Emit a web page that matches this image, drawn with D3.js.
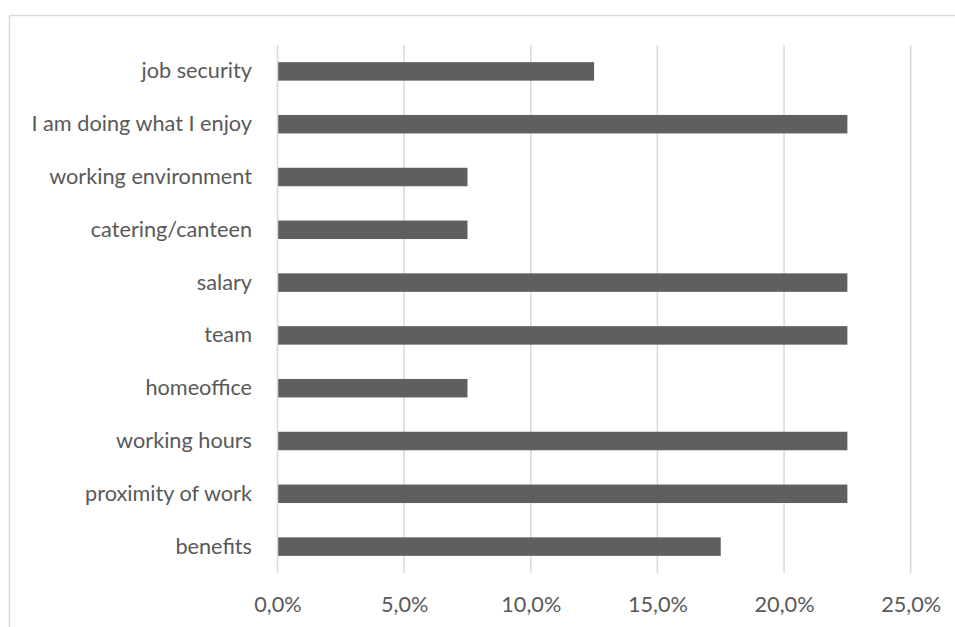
<!DOCTYPE html>
<html>
<head>
<meta charset="utf-8">
<script src="https://cdn.jsdelivr.net/npm/d3@7"></script>
<style>
  html, body { margin: 0; padding: 0; background: #fff; }
  svg { display: block; }
</style>
</head>
<body>
<svg id="chart" width="955" height="627"></svg>
<script>
const categories = [
  "job security",
  "I am doing what I enjoy",
  "working environment",
  "catering/canteen",
  "salary",
  "team",
  "homeoffice",
  "working hours",
  "proximity of work",
  "benefits"
];
const values = [0.125, 0.225, 0.075, 0.075, 0.225, 0.225, 0.075, 0.225, 0.225, 0.175];
const tickValues = [0, 0.05, 0.10, 0.15, 0.20, 0.25];
const tickLabels = ["0,0%", "5,0%", "10,0%", "15,0%", "20,0%", "25,0%"];

const svg = d3.select("#chart");
const font = "Lato, sans-serif";
const fontSize = 21.7;

// outer chart border
svg.append("rect")
  .attr("x", 9.5).attr("y", 15.5)
  .attr("width", 1000).attr("height", 700)
  .attr("fill", "#fff")
  .attr("stroke", "#d9d9d9")
  .attr("stroke-width", 1.5);

const x = d3.scaleLinear().domain([0, 0.25]).range([277.5, 910.7]);
const y = d3.scaleBand().domain(categories).range([45, 573])
  .paddingInner(0.65).paddingOuter(0.325);

// gridlines
svg.append("g").selectAll("line")
  .data(tickValues.slice(1))
  .join("line")
  .attr("x1", d => x(d)).attr("x2", d => x(d))
  .attr("y1", 45).attr("y2", 573)
  .attr("stroke", "#d9d9d9").attr("stroke-width", 1.5);

// bars
svg.append("g").selectAll("rect")
  .data(categories)
  .join("rect")
  .attr("x", x(0))
  .attr("y", d => y(d))
  .attr("width", (d, i) => x(values[i]) - x(0))
  .attr("height", y.bandwidth())
  .attr("fill", "#5f5f5f");

// vertical axis line
svg.append("line")
  .attr("x1", x(0)).attr("x2", x(0))
  .attr("y1", 45).attr("y2", 573)
  .attr("stroke", "#d9d9d9").attr("stroke-width", 1.5);

// x axis labels
const xAxis = d3.axisBottom(x).tickValues(tickValues)
  .tickFormat((d, i) => tickLabels[i]).tickSize(0).tickPadding(0);
const gx = svg.append("g").attr("transform", "translate(0,604)").call(xAxis);
gx.select(".domain").remove();
gx.selectAll("text")
  .attr("font-family", font).attr("font-size", fontSize)
  .attr("fill", "#595959").attr("dy", "0.35em").attr("y", 0);

// y axis labels
const yAxis = d3.axisLeft(y).tickSize(0).tickPadding(0);
const gy = svg.append("g").attr("transform", "translate(252,0)").call(yAxis);
gy.select(".domain").remove();
gy.selectAll("text")
  .attr("font-family", font).attr("font-size", fontSize)
  .attr("fill", "#595959");
</script>
</body>
</html>
